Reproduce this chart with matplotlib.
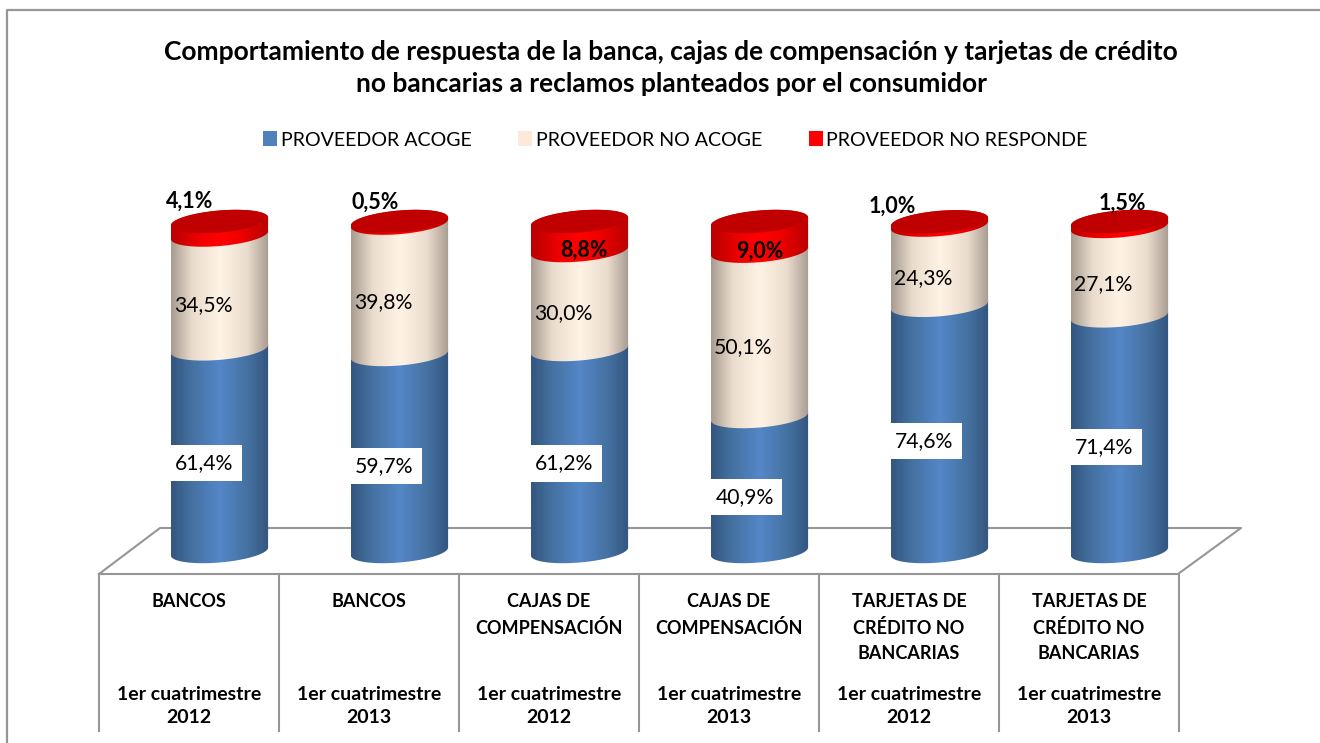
# %%
import numpy as np
import matplotlib
matplotlib.use("Agg")
import matplotlib.pyplot as plt
from matplotlib.colors import LinearSegmentedColormap
from matplotlib.patches import Patch, Polygon

plt.rcParams['font.family'] = ['Lato', 'DejaVu Sans']

TITLE = "Comportamiento de respuesta de la banca, cajas de compensación y tarjetas de crédito\nno bancarias a reclamos planteados por el consumidor"
SERIES_NAMES = ["PROVEEDOR ACOGE", "PROVEEDOR NO ACOGE", "PROVEEDOR NO RESPONDE"]
CATEGORIES = ["BANCOS", "BANCOS", "CAJAS DE\nCOMPENSACIÓN", "CAJAS DE\nCOMPENSACIÓN",
              "TARJETAS DE\nCRÉDITO NO\nBANCARIAS", "TARJETAS DE\nCRÉDITO NO\nBANCARIAS"]
PERIODS = ["1er cuatrimestre\n2012", "1er cuatrimestre\n2013"] * 3

acoge = [61.4, 59.7, 61.2, 40.9, 74.6, 71.4]
no_acoge = [34.5, 39.8, 30.0, 50.1, 24.3, 27.1]
no_responde = [4.1, 0.5, 8.8, 9.0, 1.0, 1.5]

# desplazamiento en pixeles de las etiquetas rojas, movidas a mano en el original
RED_OFFSETS = [(-29.5, 27), (-24.5, 20), (4.5, -14), (0, -14.6), (-47.5, 17), (2.5, 21)]

W, H = 1320, 743
GREY = "#969696"
HALF_W = 0.27  # medio ancho del cilindro, en categorias
PX_PER_PCT = 3.3
ELL_B = 11 / PX_PER_PCT
ELL_TILT = 4 / PX_PER_PCT

shades = [
    LinearSegmentedColormap.from_list("azul", [(0, "#33557F"), (0.2, "#44709F"), (0.5, "#5587C8"), (0.8, "#44709F"), (1, "#33557F")]),
    LinearSegmentedColormap.from_list("crema", [(0, "#A79C91"), (0.22, "#EADCCD"), (0.5, "#FFF3E5"), (0.78, "#EADCCD"), (1, "#A79C91")]),
    LinearSegmentedColormap.from_list("rojo", [(0, "#B80000"), (0.3, "#F00000"), (0.5, "#FF0000"), (0.7, "#F00000"), (1, "#B80000")]),
]


def ellipse_arc(x, level, t):
    return np.column_stack([x + HALF_W * np.cos(t), level + ELL_TILT * np.cos(t) + ELL_B * np.sin(t)])


fig = plt.figure(figsize=(W / 100, H / 100), dpi=100, facecolor="white")

# fondo en pixeles: marco, piso y tabla
bg = fig.add_axes([0, 0, 1, 1])
bg.set_xlim(0, W)
bg.set_ylim(H, 0)
bg.axis("off")
bg.plot([7, 7, W], [H, 10, 10], color=GREY, lw=1.6)
bg.plot([99, 160, 1241, 1178, 99], [574, 528, 528, 574, 574], color=GREY, lw=1.5)
for i in range(7):
    bg.plot([99 + 180 * i] * 2, [574, 731], color=GREY, lw=1.5)
for i, (cat, per) in enumerate(zip(CATEGORIES, PERIODS)):
    bg.text(189 + 180 * i, 593, cat, ha="center", va="top", fontsize=13, fontweight="bold", linespacing=1.57)
    bg.text(189 + 180 * i, 706, per, ha="center", va="center", fontsize=14, fontweight="bold", linespacing=1.43)
bg.text(671, 68, TITLE, ha="center", va="center", fontsize=19, fontweight="bold", linespacing=1.36)

# cilindros en escala de datos
ax = fig.add_axes([129.5 / W, (H - 551.5) / H, 1080 / W, 330 / H])
ax.patch.set_alpha(0)
ax.axis("off")
grad = np.linspace(0, 1, 256).reshape(1, -1)
xs = np.arange(len(CATEGORIES))
base = np.zeros(len(xs))
for vals, cmap in zip([acoge, no_acoge, no_responde], shades):
    for x, b, v in zip(xs, base, vals):
        lower = ellipse_arc(x, b, np.linspace(-np.pi, 0, 80))
        upper = ellipse_arc(x, b + v, np.linspace(0, np.pi, 80))
        clip = Polygon(np.vstack([lower, upper]), closed=True, fc="none", ec="none", clip_on=False)
        ax.add_patch(clip)
        im = ax.imshow(grad, cmap=cmap, aspect="auto", extent=[x - HALF_W, x + HALF_W, b - 6, b + v + 6], zorder=2)
        im.set_clip_box(fig.bbox)
        im.set_clip_path(clip)
    base = base + np.array(vals)
for x, top in zip(xs, base):
    cap = ellipse_arc(x, top, np.linspace(0, 2 * np.pi, 160))
    ax.add_patch(Polygon(cap, closed=True, fc="#C00000", ec="none", zorder=3, clip_on=False))
ax.set_xlim(-0.5, 5.5)
ax.set_ylim(0, 100)

# etiquetas
fmt = lambda v: f"{v:.1f}%".replace(".", ",")
for x, a, n, r, off in zip(xs, acoge, no_acoge, no_responde, RED_OFFSETS):
    ax.annotate(fmt(a), (x, a / 2), xytext=(-15, -13), textcoords="offset pixels", ha="center", va="center",
                fontsize=15.2, zorder=5, bbox=dict(boxstyle="square,pad=0.38", fc="white", ec="none"))
    ax.annotate(fmt(n), (x, a + n / 2), xytext=(-16, -13), textcoords="offset pixels", ha="center", va="center",
                fontsize=15.2, zorder=5)
    ax.annotate(fmt(r), (x, a + n + r / 2), xytext=off, textcoords="offset pixels", ha="center", va="center",
                fontsize=15.5, fontweight="bold", zorder=5, annotation_clip=False)

handles = [Patch(fc=c, ec="none") for c in ["#4F81BD", "#FDE9D9", "#FF0000"]]
fig.legend(handles, SERIES_NAMES, ncol=3, loc="center", bbox_to_anchor=(675.5 / W, (H - 140) / H), frameon=False,
           fontsize=14.1, handlelength=0.69, handleheight=0.75, handletextpad=0.2, columnspacing=2.4)

plt.savefig("out.png", dpi=100)
